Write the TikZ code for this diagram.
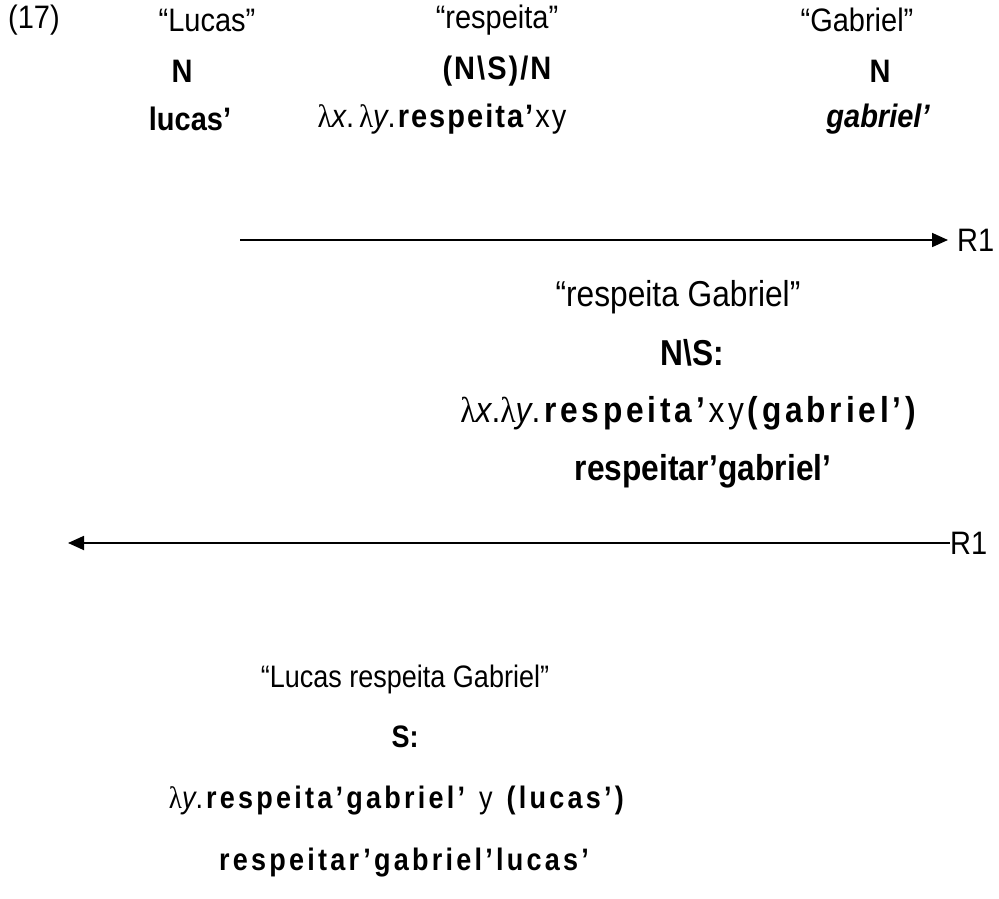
\documentclass[tikz,border=0pt]{standalone}
\usepackage{fontspec}
\setmainfont{Liberation Sans}
\newfontfamily\lamfont{Liberation Serif}
\newfontfamily\spaced{Liberation Sans}[LetterSpace=7]
\newfontfamily\wide{Liberation Sans}[LetterSpace=12]
\usetikzlibrary{arrows.meta}
\newcommand{\lam}{{\lamfont λ}}
\tikzset{
  top/.style={inner sep=0pt, font=\fontsize{29}{34}\selectfont, yscale=1.12},
  mid/.style={inner sep=0pt, font=\fontsize{36}{40}\selectfont, xscale=0.88},
  bot/.style={inner sep=0pt, font=\fontsize{27}{31}\selectfont, yscale=1.15},
  rule/.style={line width=1.8pt, -{Triangle[length=16pt,width=14pt]}},
}
\begin{document}
\begin{tikzpicture}[x=1pt,y=-1pt]
\useasboundingbox (0,0) rectangle (999,899);
\fill[white] (0,0) rectangle (999,899);

% lexical entries
\node[top, anchor=west] (ex) at (8,20) {(17)};
\node[top] (w1) at (207,20) {“Lucas”};
\node[top] (w2) at (497,20) {“respeita”};
\node[top] (w3) at (857,20) {“Gabriel”};

\node[top] (c1) at (182,71) {\bfseries N};
\node[top] (c2) at (497,71) {\spaced\bfseries (N\textbackslash S)/N};
\node[top] (c3) at (880,71) {\bfseries N};

\node[top] (s1) at (190,119) {\bfseries lucas’};
\node[top] (s2) at (442,119) {\spaced\lam\textit{x}.\,\lam\textit{y}.\textbf{respeita’}xy};
\node[top] (s3) at (878,119) {\bfseries\itshape gabriel’};

% first application
\coordinate (a1s) at (240,240);
\node[top, anchor=west] (r1a) at (957,240) {R1};
\draw[rule] (a1s) -- ([xshift=-9pt]r1a.west);

\node[mid] (m1) at (678,297) {“respeita Gabriel”};
\node[mid] (m2) at (692,353) {\bfseries N\textbackslash S:};
\node[mid] (m3) at (690,413) {{\wide\lam\textit{x}.\lam\textit{y}.\textbf{respeita’}xy\textbf{(gabriel’)}}};
\node[mid] (m4) at (703,471) {\bfseries respeitar’gabriel’};

% second application
\node[top, anchor=west] (r1b) at (950,543) {R1};
\coordinate (a2e) at (68,543);
\draw[rule] (r1b.west) -- (a2e);

\node[bot] (b1) at (405,679) {“Lucas respeita Gabriel”};
\node[bot] (b2) at (405,737) {\bfseries S:};
\node[bot] (b3) at (398,801) {{\wide\lam\textit{y}.\textbf{respeita’gabriel’}\ y \textbf{(lucas’)}}};
\node[bot] (b4) at (404,863) {{\wide\bfseries respeitar’gabriel’lucas’}};
\end{tikzpicture}
\end{document}
